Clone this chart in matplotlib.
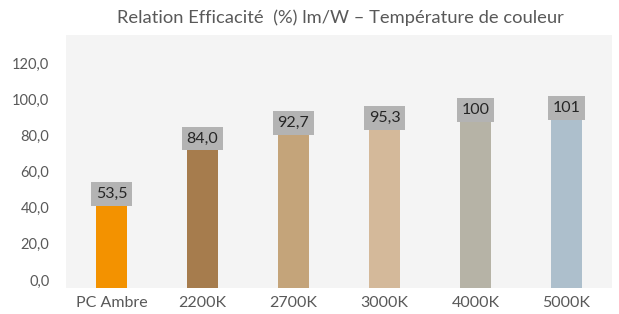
import matplotlib
matplotlib.use("Agg")
import matplotlib.pyplot as plt

categories = ["PC Ambre", "2200K", "2700K", "3000K", "4000K", "5000K"]
values = [53.5, 84.0, 92.7, 95.3, 100, 101]
labels = ["53,5", "84,0", "92,7", "95,3", "100", "101"]
colors = ["#f39200", "#a67c4d", "#c4a47a", "#d4b99a", "#b6b3a6", "#adbfcc"]
yticks = [0, 20, 40, 60, 80, 100, 120]
ytick_labels = ["0,0", "20,0", "40,0", "60,0", "80,0", "100,0", "120,0"]
title = "Relation Efficacité  (%) lm/W – Température de couleur"

plt.rcParams['font.family'] = ['Lato', 'DejaVu Sans']

fig = plt.figure(figsize=(6.19, 3.14), dpi=100)
ax = fig.add_axes([66/619, 1-288/314, (612-66)/619, (288-35)/314])
ax.set_facecolor("#f4f4f4")

ymin, ymax = -4.4, 135.5
x = list(range(len(categories)))
ax.bar(x, [v - ymin for v in values], bottom=ymin, width=0.34, color=colors, zorder=2)

for xi, v, lab in zip(x, values, labels):
    ax.annotate(lab, (xi, v), xytext=(0, -7.6), textcoords="offset points",
                ha="center", va="center", fontsize=11.5, color="#262626",
                bbox=dict(boxstyle="square,pad=0.3", fc="#b3b3b3", ec="none"), zorder=3)

ax.set_xlim(-0.5, len(categories) - 0.5)
ax.set_ylim(ymin, ymax)
ax.set_xticks(x)
ax.set_xticklabels(categories, fontsize=11.5, color="#595959")
ax.set_yticks(yticks)
ax.set_yticklabels(ytick_labels, fontsize=10.5, color="#595959")
ax.tick_params(axis="both", length=0)
ax.tick_params(axis="y", pad=12)
ax.tick_params(axis="x", pad=6)
for s in ax.spines.values():
    s.set_visible(False)

fig.text(340/619, 1-18/314, title, ha="center", va="center", fontsize=13.2, color="#595959")

fig.savefig("out.png", dpi=100, facecolor="white")
